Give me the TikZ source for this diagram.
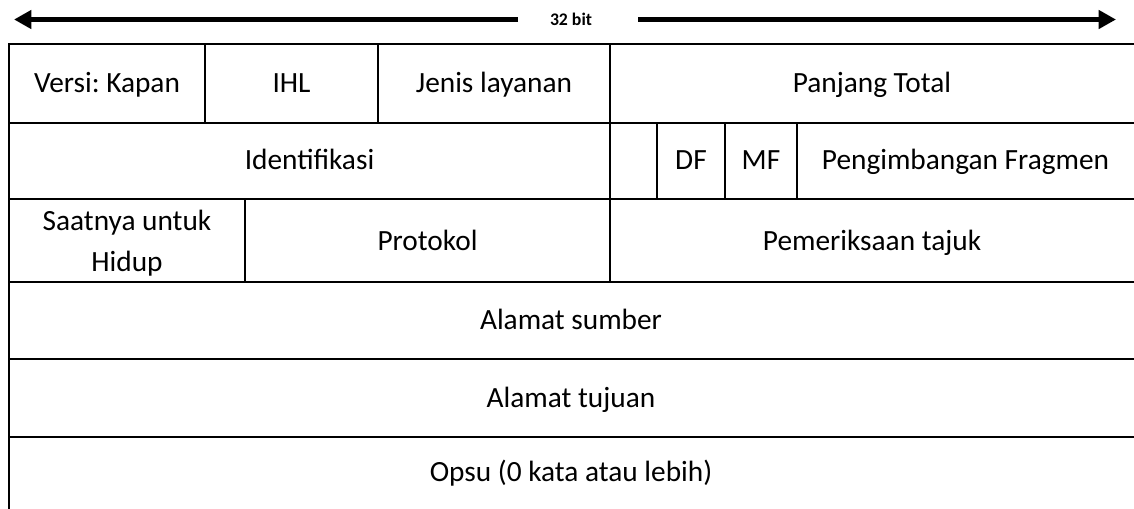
\documentclass[tikz,border=0pt]{standalone}
\usepackage{fontspec}
\setmainfont{Carlito}
\usetikzlibrary{arrows.meta}
\frenchspacing
\begin{document}
\begin{tikzpicture}[x=0.75pt,y=-0.75pt,
  gridline/.style={line width=1.9pt, line cap=rect},
  lbl/.style={anchor=base, inner sep=0pt, font=\fontsize{22}{26.4}\selectfont},
  bitlbl/.style={anchor=base, inner sep=0pt, font=\fontsize{13.3}{16}\selectfont\bfseries},
  widtharrow/.style={line width=4.1pt, -{Triangle[length=13pt,width=13.5pt]}}
]
\useasboundingbox (0,0) rectangle (1134,508);

% width indicator
\node[bitlbl] (bits) at (571,25.5) {32 bit};
\coordinate (la) at (518,19.5);
\coordinate (lb) at (14,19.5);
\coordinate (ra) at (638,19.5);
\coordinate (rb) at (1116,19.5);
\draw[widtharrow] (la) -- (lb);
\draw[widtharrow] (ra) -- (rb);

% table grid
\draw[gridline] (9,508) -- (9,44) -- (1140,44);
\foreach \y in {123,199,282,359,437} {
  \draw[gridline] (9,\y) -- (1140,\y);
}
\foreach \x in {205,378,610} { \draw[gridline] (\x,44) -- (\x,123); }
\foreach \x in {610,657,725,797} { \draw[gridline] (\x,123) -- (\x,199); }
\foreach \x in {245,610} { \draw[gridline] (\x,199) -- (\x,282); }

% row 1
\node[lbl] (versi) at (107,92) {Versi: Kapan};
\node[lbl] (ihl) at (291.5,92) {IHL};
\node[lbl] (jenis) at (494,92) {Jenis layanan};
\node[lbl] (panjang) at (872,92) {Panjang Total};
% row 2
\node[lbl] (ident) at (309.5,169) {Identifikasi};
\node[lbl] (df) at (691,169) {DF};
\node[lbl] (mf) at (761,169) {MF};
\node[lbl] (frag) at (965.5,169) {Pengimbangan Fragmen};
% row 3
\node[lbl] (ttla) at (127,230) {Saatnya untuk};
\node[lbl] (ttlb) at (127,271) {Hidup};
\node[lbl] (proto) at (427.5,250) {Protokol};
\node[lbl] (cek) at (872,250) {Pemeriksaan tajuk};
% rows 4-6
\node[lbl] (src) at (571,329) {Alamat sumber};
\node[lbl] (dst) at (571,407) {Alamat tujuan};
\node[lbl] (opt) at (571,481) {Opsu (0 kata atau lebih)};
\end{tikzpicture}
\end{document}
